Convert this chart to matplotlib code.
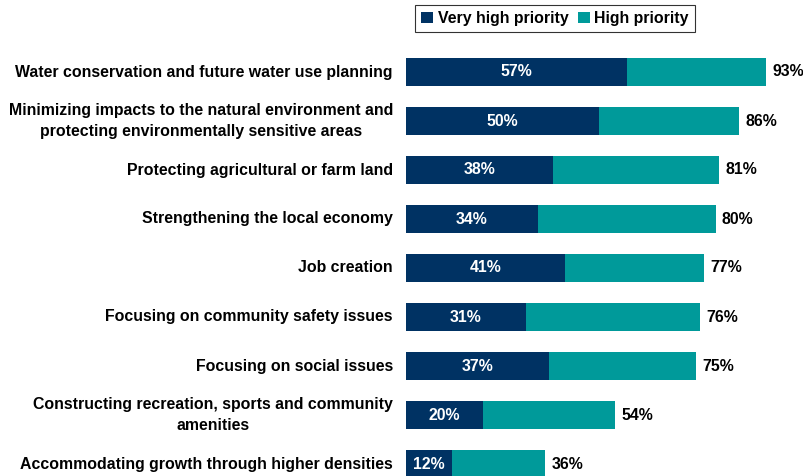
import matplotlib.pyplot as plt
from matplotlib.patches import Patch

plt.rcParams['font.family'] = ['Liberation Sans', 'DejaVu Sans']

categories = [
    "Water conservation and future water use planning",
    "Minimizing impacts to the natural environment and\nprotecting environmentally sensitive areas",
    "Protecting agricultural or farm land",
    "Strengthening the local economy",
    "Job creation",
    "Focusing on community safety issues",
    "Focusing on social issues",
    "Constructing recreation, sports and community\namenities",
    "Accommodating growth through higher densities",
]
very_high = [57, 50, 38, 34, 41, 31, 37, 20, 12]
total = [93, 86, 81, 80, 77, 76, 75, 54, 36]
high = [t - v for t, v in zip(total, very_high)]

navy = '#003263'
teal = '#009a9a'
fs = 11.4

W, H = 804, 476
fig = plt.figure(figsize=(W / 100, H / 100), dpi=100)
x0 = 406
px_per_pct = 3.87
ax = fig.add_axes([x0 / W, 0, (W - x0) / W, 1])
ax.set_xlim(0, (W - x0) / px_per_pct)
step = 49
top = 72
ax.set_ylim((H - top) / step, -top / step)
ax.axis('off')

ys = list(range(len(categories)))
ax.barh(ys, very_high, height=28 / step, color=navy)
ax.barh(ys, high, left=very_high, height=28 / step, color=teal)

for y, v, t, name in zip(ys, very_high, total, categories):
    ax.text(v / 2, y, f"{v}%", ha='center', va='center', color='white',
            fontsize=fs, fontweight='bold')
    ax.text(t + 1.6, y, f"{t}%", ha='left', va='center', color='black',
            fontsize=fs, fontweight='bold')
    fig.text(393 / W, 1 - (top + step * y) / H, name, ha='right', va='center',
             multialignment='center', fontsize=fs, fontweight='bold',
             linespacing=1.5)

handles = [Patch(facecolor=navy, label='Very high priority'),
           Patch(facecolor=teal, label='High priority')]
leg = fig.legend(handles=handles, loc='center', bbox_to_anchor=(555 / W, 1 - 18.5 / H),
                 ncol=2, frameon=True, fancybox=False, edgecolor='black',
                 handlelength=0.75, handleheight=0.75, handletextpad=0.3,
                 columnspacing=0.6, borderpad=0.35, borderaxespad=0,
                 prop={'weight': 'bold', 'size': 11.4})
leg.get_frame().set_linewidth(0.8)

fig.savefig('out.png', dpi=100)
